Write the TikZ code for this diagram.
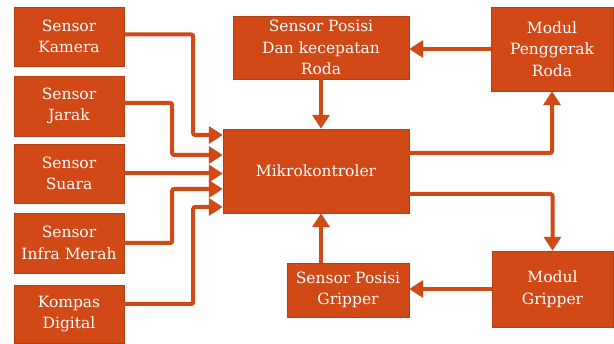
\documentclass[tikz,border=0pt]{standalone}
\usepackage{fontspec}
\setmainfont{DejaVu Serif}
\usetikzlibrary{arrows.meta}
\definecolor{boxorange}{RGB}{210,73,24}
\tikzset{
  block/.style = {fill = boxorange, draw = boxorange!85!black, line width = 0.4pt,
    text = white, inner sep = 0pt, align = center,
    font = \fontsize{15.5}{21.5}\selectfont},
  link/.style = {draw = boxorange, line width = 4pt, rounded corners = 2pt,
    -{Triangle[width = 17pt, length = 14pt]}}
}
\begin{document}
\begin{tikzpicture}[x = 1pt, y = -1pt]
      \useasboundingbox [fill = white] (0, 0) rectangle (614, 344);

      % sensors
      % -------
      \node [block, minimum width = 110pt, minimum height = 59pt] (kamera) at (69, 36.5) {Sensor\\Kamera};
      \node [block, minimum width = 110pt, minimum height = 60pt] (jarak) at (69, 106) {Sensor\\Jarak};
      \node [block, minimum width = 110pt, minimum height = 59pt] (suara) at (69, 173.5) {Sensor\\Suara};
      \node [block, minimum width = 110pt, minimum height = 60pt] (infra) at (69, 243) {Sensor\\Infra Merah};
      \node [block, minimum width = 110pt, minimum height = 58pt] (kompas) at (69, 314) {Kompas\\Digital};

      % controller
      % ----------
      \node [block, minimum width = 186pt, minimum height = 84pt] (mikro) at (316, 171) {Mikrokontroler};

      % wheel
      % -----
      \node [block, minimum width = 176pt, minimum height = 63pt] (posroda) at (321, 47.5) {Sensor Posisi\\Dan kecepatan\\Roda};
      \node [block, minimum width = 122pt, minimum height = 84pt] (penggerak) at (552, 49) {Modul\\Penggerak\\Roda};

      % gripper
      % -------
      \node [block, minimum width = 122pt, minimum height = 54pt] (posgrip) at (348, 290) {Sensor Posisi\\Gripper};
      \node [block, minimum width = 121pt, minimum height = 76pt] (modgrip) at (552.5, 289) {Modul\\Gripper};

      % inputs
      % ------
      \draw [link] ([yshift = 2pt]kamera.east) -- ++(69, 0) |- ([yshift = 36pt]mikro.west);
      \draw [link] ([yshift = 3pt]jarak.east) -- ++(48, 0) |- ([yshift = 16pt]mikro.west);
      \draw [link] (suara.east) -- (suara.east -| mikro.west);
      \draw [link] (infra.east) -- ++(48, 0) |- ([yshift = -18pt]mikro.west);
      \draw [link] ([yshift = 10pt]kompas.east) -- ++(69, 0) |- ([yshift = -36pt]mikro.west);

      % loops
      % -----
      \draw [link] (posroda.south) -- (posroda.south |- mikro.north);
      \draw [link] (penggerak.west) -- (penggerak.west -| posroda.east);
      \draw [link] ([yshift = 18pt]mikro.east) -| (penggerak.south);
      \draw [link] ([yshift = -23pt]mikro.east) -| (modgrip.north);
      \draw [link] (modgrip.west) -- (modgrip.west -| posgrip.east);
      \draw [link] ([xshift = -27pt]posgrip.north) -- ([xshift = 5pt]mikro.south);
    \end{tikzpicture}
\end{document}
